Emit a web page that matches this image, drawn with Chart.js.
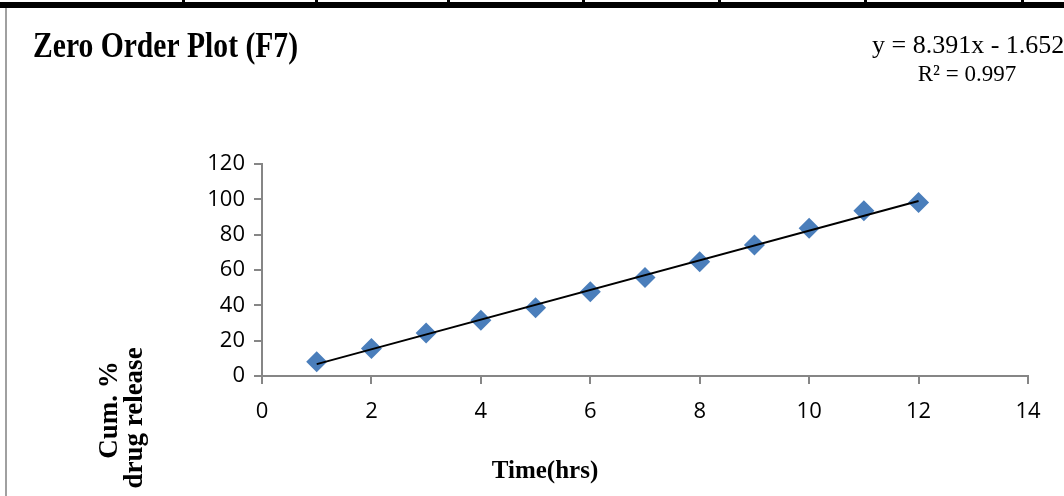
<!DOCTYPE html>
<html>
<head>
<meta charset="utf-8">
<script src="https://cdn.jsdelivr.net/npm/chart.js@4"></script>
<style>
  html, body { margin: 0; padding: 0; background: #fff; }
  #wrap { width: 1064px; height: 496px; position: relative; }
</style>
</head>
<body>
<div id="wrap"><canvas id="zeroOrderChart"></canvas></div>
<script>
const timeHrs = [1, 2, 3, 4, 5, 6, 7, 8, 9, 10, 11, 12];
const cumRelease = [8.0, 15.5, 24.4, 31.6, 38.6, 47.7, 55.8, 64.7, 74.2, 83.7, 93.6, 98.2];
// trendline end points from y = 8.391x - 1.652
const trendX = [1, 12];
const trendY = [6.74, 99.04];
const xTicks = [0, 2, 4, 6, 8, 10, 12, 14];
const yTicks = [0, 20, 40, 60, 80, 100, 120];

const chartTitle = "Zero Order Plot (F7)";
const eqLine = "y = 8.391x - 1.652";
const r2Line = "R\u00B2 = 0.997";
const yTitle = ["Cum. %", "drug release"];
const xTitle = "Time(hrs)";

const axisGray = "#868686";
const serif = "'Liberation Serif', 'Times New Roman', serif";

// page decorations and text labels
const decorPlugin = {
  id: "decor",
  beforeDraw(chart) {
    const ctx = chart.ctx;
    ctx.save();
    // top black rule with small separators
    ctx.fillStyle = "#000";
    ctx.fillRect(0, 2, 1064, 6);
    [182, 315, 447, 582, 718, 864, 1021].forEach(x => ctx.fillRect(x, 0, 3, 8));
    // left gray rule
    ctx.fillStyle = "#a0a0a0";
    ctx.fillRect(5, 8, 2, 488);
    ctx.restore();
  },
  afterDraw(chart) {
    const ctx = chart.ctx;
    ctx.save();
    ctx.fillStyle = "#000";
    ctx.textBaseline = "alphabetic";

    // title is a bit condensed in the original
    ctx.font = "bold 36px " + serif;
    ctx.textAlign = "left";
    const tw = ctx.measureText(chartTitle).width;
    ctx.save();
    ctx.translate(33, 57);
    ctx.scale(265 / tw, 1);
    ctx.fillText(chartTitle, 0, 0);
    ctx.restore();

    ctx.font = "26px " + serif;
    ctx.textAlign = "left";
    ctx.fillText(eqLine, 872, 53);
    ctx.font = "23px " + serif;
    ctx.textAlign = "center";
    ctx.fillText(r2Line, 967, 81);

    ctx.font = "bold 25px " + serif;
    ctx.fillText(xTitle, 545, 478);

    ctx.font = "bold 27px " + serif;
    ctx.save();
    ctx.translate(117, 410);
    ctx.rotate(-Math.PI / 2);
    ctx.fillText(yTitle[0], 0, 0);
    ctx.restore();
    ctx.save();
    ctx.translate(142, 418);
    ctx.rotate(-Math.PI / 2);
    ctx.fillText(yTitle[1], 0, 0);
    ctx.restore();
    ctx.restore();
  }
};

new Chart(document.getElementById("zeroOrderChart"), {
  type: "scatter",
  data: {
    datasets: [
      {
        label: "Trend",
        type: "line",
        data: trendX.map((x, i) => ({ x: x, y: trendY[i] })),
        borderColor: "#000",
        borderWidth: 2,
        pointRadius: 0,
        fill: false,
        order: 1
      },
      {
        label: "Cum. % drug release",
        data: timeHrs.map((x, i) => ({ x: x, y: cumRelease[i] })),
        pointStyle: "rectRot",
        pointRadius: 10.5,
        pointHoverRadius: 10.5,
        backgroundColor: "#4a7ebb",
        borderColor: "#4a7ebb",
        borderWidth: 0,
        order: 2
      }
    ]
  },
  options: {
    responsive: true,
    maintainAspectRatio: false,
    animation: false,
    layout: { padding: { top: 164, right: 36, left: 0, bottom: 0 } },
    plugins: {
      legend: { display: false },
      tooltip: { enabled: false }
    },
    scales: {
      x: {
        type: "linear",
        min: 0,
        max: 14,
        afterBuildTicks(axis) { axis.ticks = xTicks.map(v => ({ value: v })); },
        afterFit(axis) { axis.height = 120; },
        grid: { drawOnChartArea: false, drawTicks: true, tickLength: 8, color: axisGray, lineWidth: 2 },
        border: { color: axisGray, width: 2 },
        ticks: { color: "#000", padding: 15, font: { family: "'Open Sans'", size: 22 } }
      },
      y: {
        min: 0,
        max: 120,
        afterBuildTicks(axis) { axis.ticks = yTicks.map(v => ({ value: v })); },
        afterFit(axis) { axis.width = 262; },
        grid: { drawOnChartArea: false, drawTicks: true, tickLength: 8, color: axisGray, lineWidth: 2 },
        border: { color: axisGray, width: 2 },
        ticks: { color: "#000", padding: 9, font: { family: "'Open Sans'", size: 22 } }
      }
    }
  },
  plugins: [decorPlugin]
});
</script>
</body>
</html>
